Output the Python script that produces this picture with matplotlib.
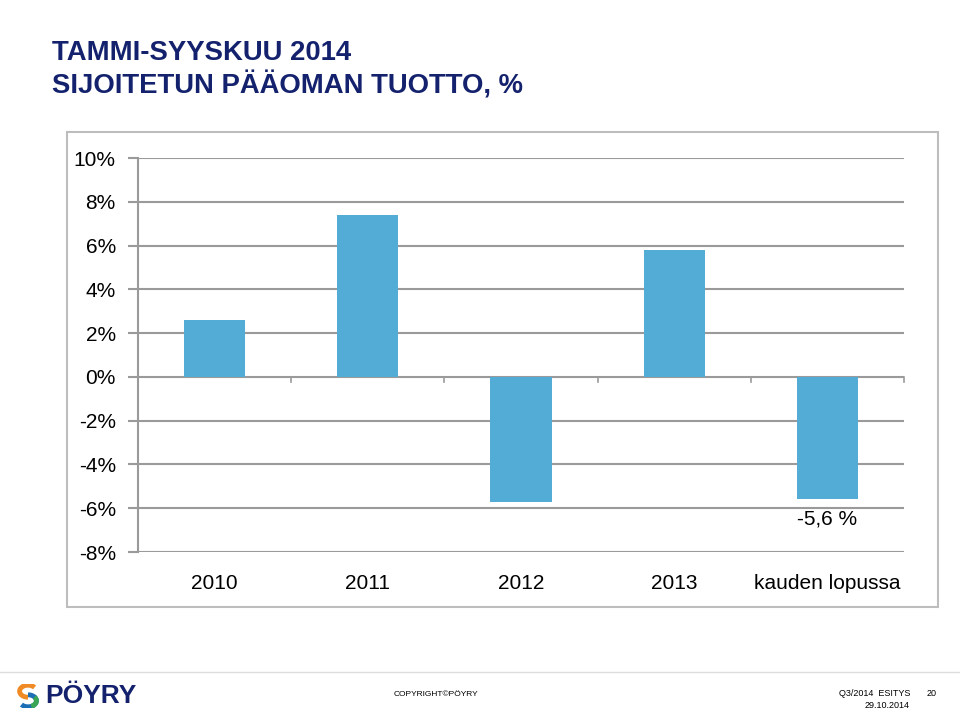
import matplotlib.pyplot as plt
from matplotlib.patches import Rectangle, Arc
from matplotlib.lines import Line2D

# Data
categories = ['2010', '2011', '2012', '2013', 'kauden lopussa']
values = [2.6, 7.4, -5.7, 5.8, -5.6]
yticks = [-8, -6, -4, -2, 0, 2, 4, 6, 8, 10]
last_label = '-5,6 %'

navy = '#14226e'
bar_color = '#52acd5'
grid_color = '#9a9a9a'

plt.rcParams['font.family'] = ['Liberation Sans', 'DejaVu Sans']

fig = plt.figure(figsize=(9.6, 7.12), dpi=100)

# Title
fig.text(52 / 960, 1 - 53 / 712, 'TAMMI-SYYSKUU 2014', fontsize=19.8, fontweight='bold',
         color=navy, va='center', ha='left')
fig.text(52 / 960, 1 - 85 / 712, 'SIJOITETUN PÄÄOMAN TUOTTO, %', fontsize=19.8, fontweight='bold',
         color=navy, va='center', ha='left')

# Chart frame
fig.add_artist(Rectangle((67 / 960, 1 - 607 / 712), 871 / 960, 475 / 712,
                         transform=fig.transFigure, fill=False, edgecolor='#bdbdbd', lw=1.5))

ax = fig.add_axes([138 / 960, 1 - 552 / 712, 766 / 960, 394 / 712])
x = list(range(len(categories)))
ax.bar(x, values, width=0.4, color=bar_color, zorder=3)
ax.set_xlim(-0.5, len(categories) - 0.5)
ax.set_ylim(-8, 10)
ax.set_yticks(yticks)
ax.set_yticklabels([f'{v}%' for v in yticks], fontsize=15)
ax.yaxis.grid(True, color=grid_color, lw=1.5, zorder=0)
ax.tick_params(axis='y', length=7, width=1.5, color=grid_color, pad=9)
ax.set_xticks(x)
ax.set_xticklabels(categories, fontsize=15)
ax.tick_params(axis='x', length=0, pad=16)
for s in ['top', 'right', 'bottom']:
    ax.spines[s].set_visible(False)
ax.spines['left'].set_color(grid_color)
ax.spines['left'].set_linewidth(1.5)

# category boundary ticks on zero line
for b in range(1, len(categories) + 1):
    ax.plot([b - 0.5, b - 0.5], [0, -0.25], color=grid_color, lw=1.2, zorder=2, clip_on=False)

ax.text(x[-1], values[-1] - 0.45, last_label, ha='center', va='top', fontsize=15)

# Footer
fig.add_artist(Line2D([0, 1], [1 - 672 / 712, 1 - 672 / 712], transform=fig.transFigure,
                      color='#dddddd', lw=1))
fig.text(45 / 960, 1 - 696 / 712, 'PÖYRY', fontsize=19, fontweight='bold', color=navy,
         va='center', ha='left')
ax_logo = fig.add_axes([16 / 960, 1 - 708 / 712, 24 / 960, 24 / 712])
ax_logo.set_xlim(-1, 1)
ax_logo.set_ylim(-1, 1)
ax_logo.axis('off')
ax_logo.add_patch(Arc((0, 0.4), 1.4, 1.0, theta1=30, theta2=270, color='#f08a24', lw=3.5))
ax_logo.add_patch(Arc((0, -0.4), 1.4, 1.0, theta1=210, theta2=450, color='#1c6fb5', lw=3.5))
ax_logo.add_patch(Arc((0, -0.4), 1.4, 1.0, theta1=-60, theta2=30, color='#3aa655', lw=3.5))

fig.text(436 / 960, 1 - 695 / 712, 'COPYRIGHT©PÖYRY', fontsize=6, ha='center', va='center')
fig.text(910 / 960, 1 - 694 / 712, 'Q3/2014  ESITYS', fontsize=6.5, ha='right', va='center')
fig.text(910 / 960, 1 - 706 / 712, '29.10.2014', fontsize=6.5, ha='right', va='center')
fig.text(932 / 960, 1 - 694 / 712, '20', fontsize=6.5, ha='center', va='center')

fig.savefig('out.png', dpi=100)
